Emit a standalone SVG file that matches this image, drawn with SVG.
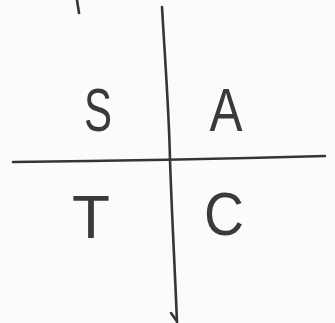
<svg xmlns="http://www.w3.org/2000/svg" width="335" height="323" viewBox="0 0 335 323">
<style>
.ln{fill:none;stroke:#353535;stroke-width:2.6;stroke-linecap:round;stroke-linejoin:round}
.lb{font-family:"Liberation Sans","DejaVu Sans",sans-serif;font-size:62px;fill:#3a3a3a;text-anchor:middle}
</style>
<rect width="335" height="323" fill="#fbfbfb"/>
<g id="connectors">
<path class="ln" d="M77,0 L79,13"/>
<path class="ln" d="M162,7 C165,60 169,110 170,160 C172,220 175,270 177,323"/>
<path class="ln" d="M171,313 L176,320"/>
<path class="ln" d="M13,162 C120,161 220,159 325,156"/>
</g>
<g id="S"><text class="lb" x="98" y="131" textLength="28" lengthAdjust="spacingAndGlyphs">S</text></g>
<g id="A"><text class="lb" x="226" y="131" textLength="33" lengthAdjust="spacingAndGlyphs">A</text></g>
<g id="T"><text class="lb" x="91" y="238" textLength="38" lengthAdjust="spacingAndGlyphs">T</text></g>
<g id="C"><text class="lb" x="224" y="235" textLength="40" lengthAdjust="spacingAndGlyphs">C</text></g>
</svg>
